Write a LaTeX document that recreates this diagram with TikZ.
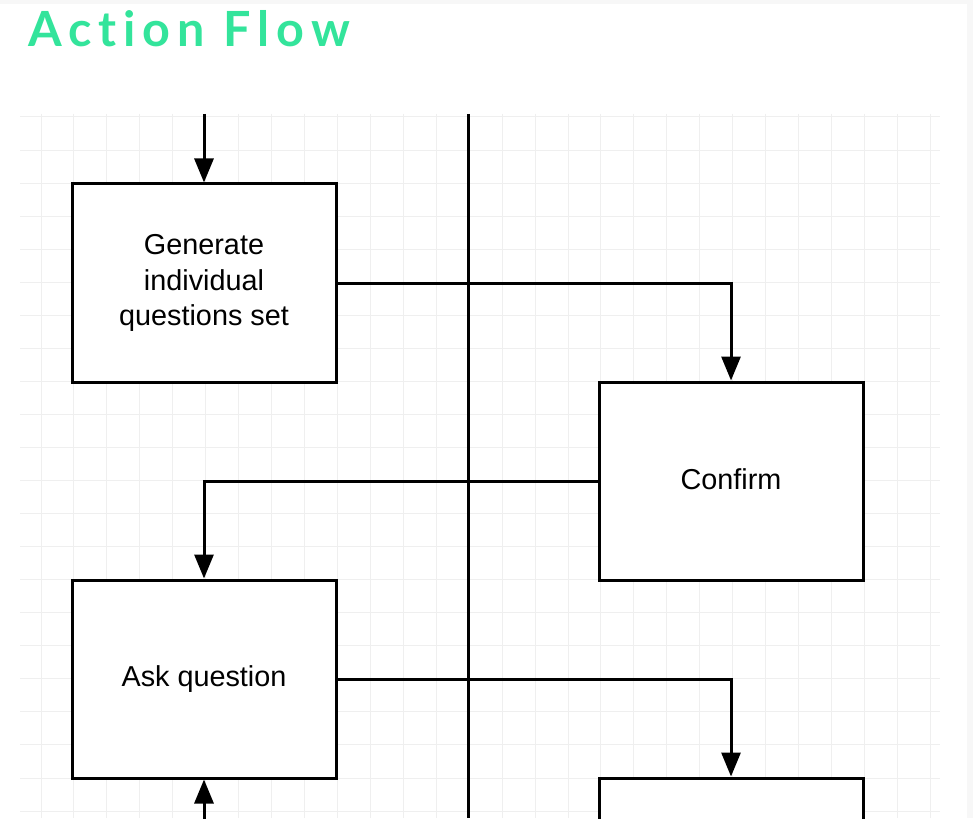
\documentclass[tikz,border=0pt]{standalone}
\usepackage{fontspec}
\setmainfont{Liberation Sans}
\newfontfamily\titlefont[LetterSpace=14.3,Ligatures={NoCommon,NoRequired,NoContextual}]{Lato}
\usetikzlibrary{arrows.meta}
\definecolor{titlegreen}{HTML}{33E49B}
\definecolor{gridgray}{HTML}{EFEFEF}
\definecolor{pagegray}{HTML}{F7F7F7}
\tikzset{
  box/.style={draw=black, line width=3pt, fill=white, minimum width=264pt, minimum height=198pt, align=center, inner sep=0pt,
    font=\fontsize{28.8}{35.5}\selectfont},
  arr/.style={line width=3pt, -{Triangle[width=19pt,length=24pt]}},
  gridline/.style={draw=gridgray, line width=1pt},
}
\begin{document}
\begin{tikzpicture}[x=1pt,y=-1pt]
\useasboundingbox (0,0) rectangle (973,818);
\clip (0,0) rectangle (973,818);
\fill[pagegray] (0,0) rectangle (973,818);
\fill[white] (0,4) rectangle (967,818);
% grid
\foreach \i in {0,...,27} {
  \draw[gridline] (41+\i*32.94,114) -- (41+\i*32.94,818);
}
\foreach \j in {0,...,21} {
  \draw[gridline] (20,117+\j*33.05) -- (940,117+\j*33.05);
}
% title
\node[anchor=base west, inner sep=0pt, text=titlegreen, font=\titlefont\bfseries\fontsize{48.5}{50}\selectfont] (title) at (28,47) {Action Flow};
% divider
\coordinate (divtop) at (468,114);
\coordinate (divbot) at (468,818);
\draw[line width=3pt] (divtop) -- (divbot);
% boxes
\node[box] (b1) at (204,283) {Generate\\individual\\questions set};
\node[box] (b2) at (731,481) {\raisebox{4pt}{Confirm}};
\node[box] (b3) at (204,679) {\raisebox{2pt}{Ask question}};
\node[box] (b4) at (731,877) {};
% connectors
\coordinate (intop) at (204,114);
\coordinate (inbot) at (204,830);
\draw[arr] (intop) -- (b1.north);
\draw[arr] (b1.east) -| (b2.north);
\draw[arr] (b2.west) -| (b3.north);
\draw[arr] (b3.east) -| (b4.north);
\draw[arr] (inbot) -- (b3.south);
\end{tikzpicture}
\end{document}
